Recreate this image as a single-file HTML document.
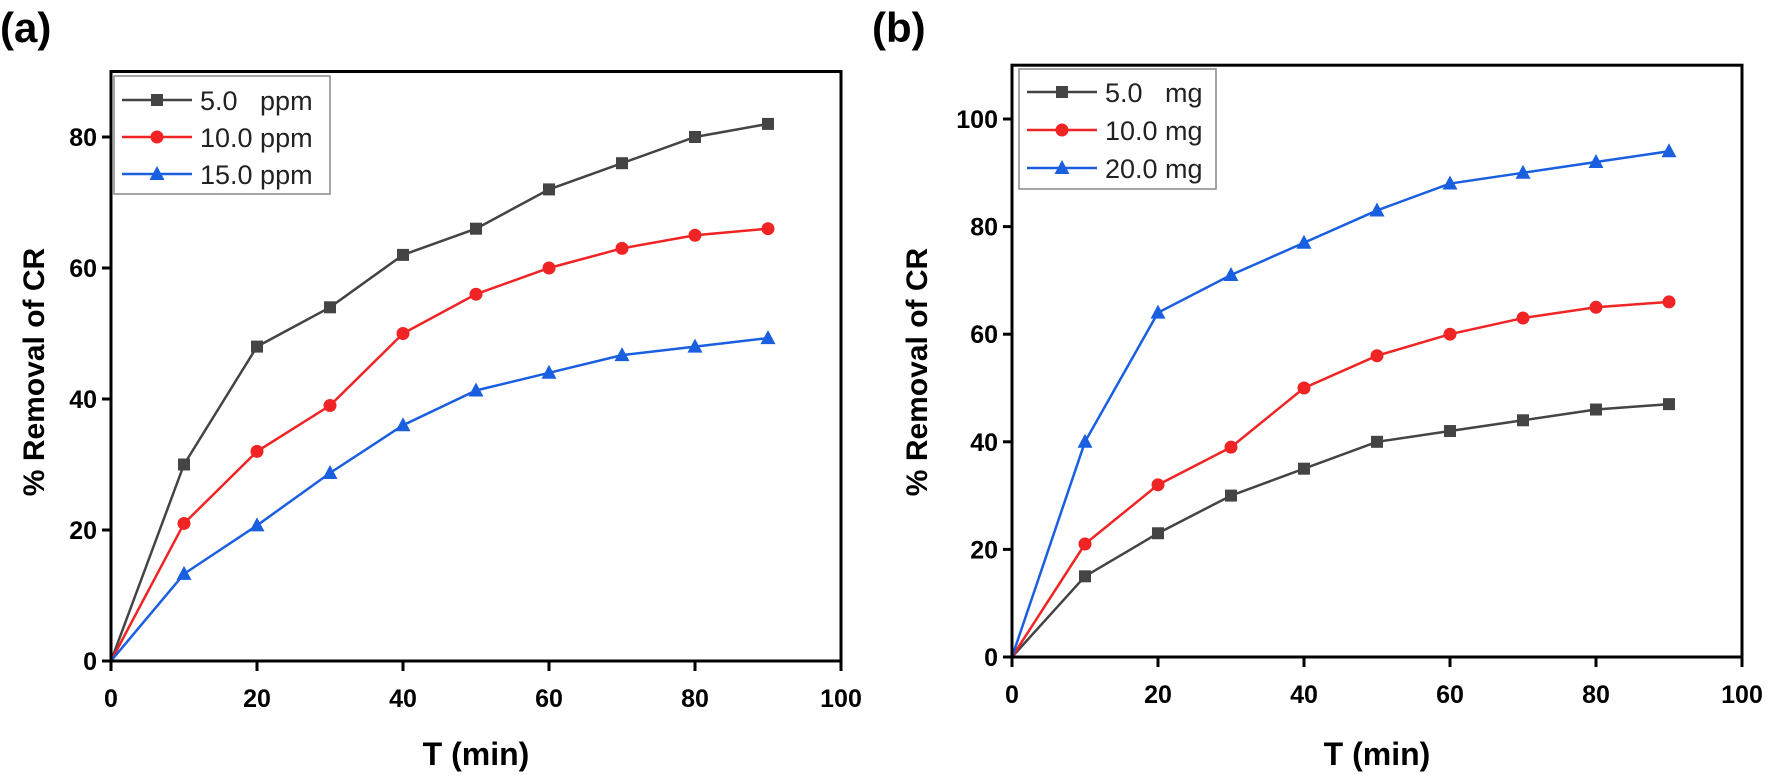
<!DOCTYPE html>
<html><head><meta charset="utf-8"><style>
html,body{margin:0;padding:0;background:#fff;}
svg{display:block;}
text{font-family:"Liberation Sans",Arial,sans-serif;white-space:pre;}
</style></head><body>
<svg id="s" width="1770" height="775" viewBox="0 0 1770 775" xmlns="http://www.w3.org/2000/svg">
<text x="0" y="42" font-size="42" font-weight="bold">(a)</text>
<text x="872" y="42" font-size="42" font-weight="bold">(b)</text>
<text transform="translate(44,372) rotate(-90)" text-anchor="middle" font-size="30" font-weight="bold">% Removal of CR</text>
<text transform="translate(927,372) rotate(-90)" text-anchor="middle" font-size="30" font-weight="bold">% Removal of CR</text>
<text x="476" y="765" text-anchor="middle" font-size="32" font-weight="bold">T (min)</text>
<text x="1377" y="765" text-anchor="middle" font-size="32" font-weight="bold">T (min)</text>
</svg>
<script>
var s=document.getElementById('s'),NS='http://www.w3.org/2000/svg';
function el(t,a,txt){var e=document.createElementNS(NS,t);for(var k in a)e.setAttribute(k,a[k]);if(txt!==undefined)e.textContent=txt;s.appendChild(e);return e;}
var cols=['#444444','#f02424','#1a5fe0'];
function marker(k,x,y,c){
 if(k==0)el('rect',{x:x-6,y:y-6,width:12,height:12,fill:c});
 else if(k==1)el('circle',{cx:x,cy:y,r:6.5,fill:c});
 else el('polygon',{points:(x)+','+(y-8)+' '+(x-7.5)+','+(y+6)+' '+(x+7.5)+','+(y+6),fill:c});
}
function panel(P){
 var X=function(v){return P.x0+(P.x1-P.x0)*v/100;},Y=function(v){return P.y0-P.py*v;};
 var top=Y(P.ymax);
 for(var v=0;v<=100;v+=20){el('line',{x1:X(v),y1:P.y0,x2:X(v),y2:P.y0+10,stroke:'#000','stroke-width':3});
  el('text',{x:X(v),y:P.y0+46,'text-anchor':'middle','font-size':25,'font-weight':'bold'},v);}
 for(var v=0;v<=P.ytop;v+=20){el('line',{x1:P.x0-9,y1:Y(v),x2:P.x0,y2:Y(v),stroke:'#000','stroke-width':3});
  el('text',{x:P.x0-14,y:Y(v)+9,'text-anchor':'end','font-size':25,'font-weight':'bold'},v);}
 P.data.forEach(function(d,k){
  var pts=d.map(function(v,i){return X(i*10)+','+Y(v);}).join(' ');
  el('polyline',{points:pts,fill:'none',stroke:cols[k],'stroke-width':2.5});
  d.forEach(function(v,i){if(i>0)marker(k,X(i*10),Y(v),cols[k]);});
 });
 el('rect',{x:P.x0,y:top,width:P.x1-P.x0,height:P.y0-top,fill:'none',stroke:'#000','stroke-width':3});
 var L=P.leg;
 el('rect',{x:L.x,y:L.y,width:L.w,height:L.h,fill:'#fff',stroke:'#888','stroke-width':1.5});
 L.rows.forEach(function(t,k){var yy=L.ry[k];
  el('line',{x1:L.x+8,y1:yy,x2:L.x+78,y2:yy,stroke:cols[k],'stroke-width':2.5});
  marker(k,L.x+43,yy,cols[k]);
  el('text',{x:L.x+86,y:yy+10,'font-size':27,fill:'#222'},t);
 });
}
panel({x0:111,x1:841,y0:661,py:6.55,ymax:90,ytop:80,
 data:[[0,30,48,54,62,66,72,76,80,82],[0,21,32,39,50,56,60,63,65,66],[0,13.3,20.7,28.7,36,41.3,44,46.7,48,49.3]],
 leg:{x:114,y:76,w:216,h:118,ry:[100,137,174],rows:['5.0   ppm','10.0 ppm','15.0 ppm']}});
panel({x0:1012,x1:1742,y0:657,py:5.38,ymax:110,ytop:100,
 data:[[0,15,23,30,35,40,42,44,46,47],[0,21,32,39,50,56,60,63,65,66],[0,40,64,71,77,83,88,90,92,94]],
 leg:{x:1019,y:69,w:197,h:120,ry:[92,130,168],rows:['5.0   mg','10.0 mg','20.0 mg']}});
</script>
</body></html>
